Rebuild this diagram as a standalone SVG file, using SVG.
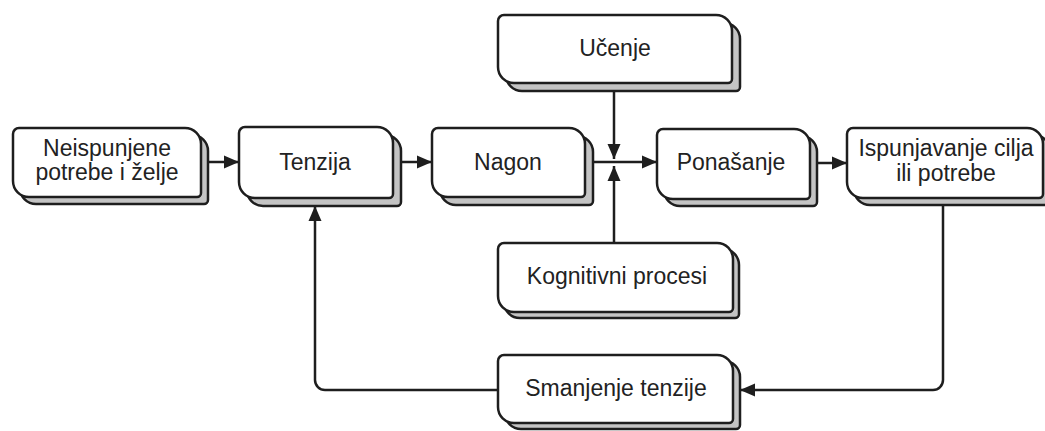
<svg xmlns="http://www.w3.org/2000/svg" width="1045" height="431" viewBox="0 0 1045 431">
<defs>
<style>
.sh{fill:#c4c4c4;stroke:#1e1e1e;stroke-width:2.5;stroke-linejoin:round}
.fr{fill:#ffffff;stroke:#1e1e1e;stroke-width:2.5;stroke-linejoin:round}
.t{font-family:"Liberation Sans",Arial,sans-serif;font-size:23px;fill:#222;text-anchor:middle}
.c{fill:none;stroke:#1e1e1e;stroke-width:2.5;marker-end:url(#ah)}
</style>
<marker id="ah" markerUnits="userSpaceOnUse" markerWidth="16" markerHeight="14" refX="15" refY="7" orient="auto">
<path d="M0,0.5 L15,7 L0,13.5 Z" fill="#1e1e1e"/>
</marker>
</defs>
<rect width="1045" height="431" fill="#ffffff"/>
<g id="connectors">
<path class="c" d="M209 162 H239"/>
<path class="c" d="M401 162 H432"/>
<path class="c" d="M593 162 H657"/>
<path class="c" d="M614 90 V159"/>
<path class="c" d="M614 243 V166"/>
<path class="c" d="M817 163 H847"/>
<path class="c" d="M943 205 V380 A10 10 0 0 1 933 390 H740"/>
<path class="c" d="M498 390 H325 A10 10 0 0 1 315 380 V206"/>
</g>
<g id="n1">
<path class="sh" transform="translate(7 7)" d="M19 128 H185 A16 16 0 0 1 201 144 V193 A4 4 0 0 1 197 197 H29 A16 16 0 0 1 13 181 V134 A6 6 0 0 1 19 128 Z"/>
<path class="fr" d="M19 128 H185 A16 16 0 0 1 201 144 V193 A4 4 0 0 1 197 197 H29 A16 16 0 0 1 13 181 V134 A6 6 0 0 1 19 128 Z"/>
<text class="t" x="107" y="156">Neispunjene</text>
<text class="t" x="107" y="180">potrebe i želje</text>
</g>
<g id="n2">
<path class="sh" transform="translate(8 8)" d="M245 127 H377 A16 16 0 0 1 393 143 V194 A4 4 0 0 1 389 198 H255 A16 16 0 0 1 239 182 V133 A6 6 0 0 1 245 127 Z"/>
<path class="fr" d="M245 127 H377 A16 16 0 0 1 393 143 V194 A4 4 0 0 1 389 198 H255 A16 16 0 0 1 239 182 V133 A6 6 0 0 1 245 127 Z"/>
<text class="t" x="315" y="170">Tenzija</text>
</g>
<g id="n3">
<path class="sh" transform="translate(8 8)" d="M438 128 H569 A16 16 0 0 1 585 144 V193 A4 4 0 0 1 581 197 H448 A16 16 0 0 1 432 181 V134 A6 6 0 0 1 438 128 Z"/>
<path class="fr" d="M438 128 H569 A16 16 0 0 1 585 144 V193 A4 4 0 0 1 581 197 H448 A16 16 0 0 1 432 181 V134 A6 6 0 0 1 438 128 Z"/>
<text class="t" x="508" y="170">Nagon</text>
</g>
<g id="n4">
<path class="sh" transform="translate(8 8)" d="M504 15 H716 A16 16 0 0 1 732 31 V79 A4 4 0 0 1 728 83 H514 A16 16 0 0 1 498 67 V21 A6 6 0 0 1 504 15 Z"/>
<path class="fr" d="M504 15 H716 A16 16 0 0 1 732 31 V79 A4 4 0 0 1 728 83 H514 A16 16 0 0 1 498 67 V21 A6 6 0 0 1 504 15 Z"/>
<text class="t" x="615" y="56">Učenje</text>
</g>
<g id="n5">
<path class="sh" transform="translate(7 7)" d="M663 129 H794 A16 16 0 0 1 810 145 V195 A4 4 0 0 1 806 199 H673 A16 16 0 0 1 657 183 V135 A6 6 0 0 1 663 129 Z"/>
<path class="fr" d="M663 129 H794 A16 16 0 0 1 810 145 V195 A4 4 0 0 1 806 199 H673 A16 16 0 0 1 657 183 V135 A6 6 0 0 1 663 129 Z"/>
<text class="t" x="731" y="170">Ponašanje</text>
</g>
<g id="n6">
<path class="sh" transform="translate(7 7)" d="M853 128 H1027 A16 16 0 0 1 1043 144 V194 A4 4 0 0 1 1039 198 H863 A16 16 0 0 1 847 182 V134 A6 6 0 0 1 853 128 Z"/>
<path class="fr" d="M853 128 H1027 A16 16 0 0 1 1043 144 V194 A4 4 0 0 1 1039 198 H863 A16 16 0 0 1 847 182 V134 A6 6 0 0 1 853 128 Z"/>
<text class="t" x="946" y="156">Ispunjavanje cilja</text>
<text class="t" x="946" y="181">ili potrebe</text>
</g>
<g id="n7">
<path class="sh" transform="translate(6 6)" d="M504 243 H717 A16 16 0 0 1 733 259 V308 A4 4 0 0 1 729 312 H514 A16 16 0 0 1 498 296 V249 A6 6 0 0 1 504 243 Z"/>
<path class="fr" d="M504 243 H717 A16 16 0 0 1 733 259 V308 A4 4 0 0 1 729 312 H514 A16 16 0 0 1 498 296 V249 A6 6 0 0 1 504 243 Z"/>
<text class="t" x="617" y="284">Kognitivni procesi</text>
</g>
<g id="n8">
<path class="sh" transform="translate(7 6)" d="M504 355 H717 A16 16 0 0 1 733 371 V419 A4 4 0 0 1 729 423 H514 A16 16 0 0 1 498 407 V361 A6 6 0 0 1 504 355 Z"/>
<path class="fr" d="M504 355 H717 A16 16 0 0 1 733 371 V419 A4 4 0 0 1 729 423 H514 A16 16 0 0 1 498 407 V361 A6 6 0 0 1 504 355 Z"/>
<text class="t" x="616" y="396">Smanjenje tenzije</text>
</g>
</svg>
